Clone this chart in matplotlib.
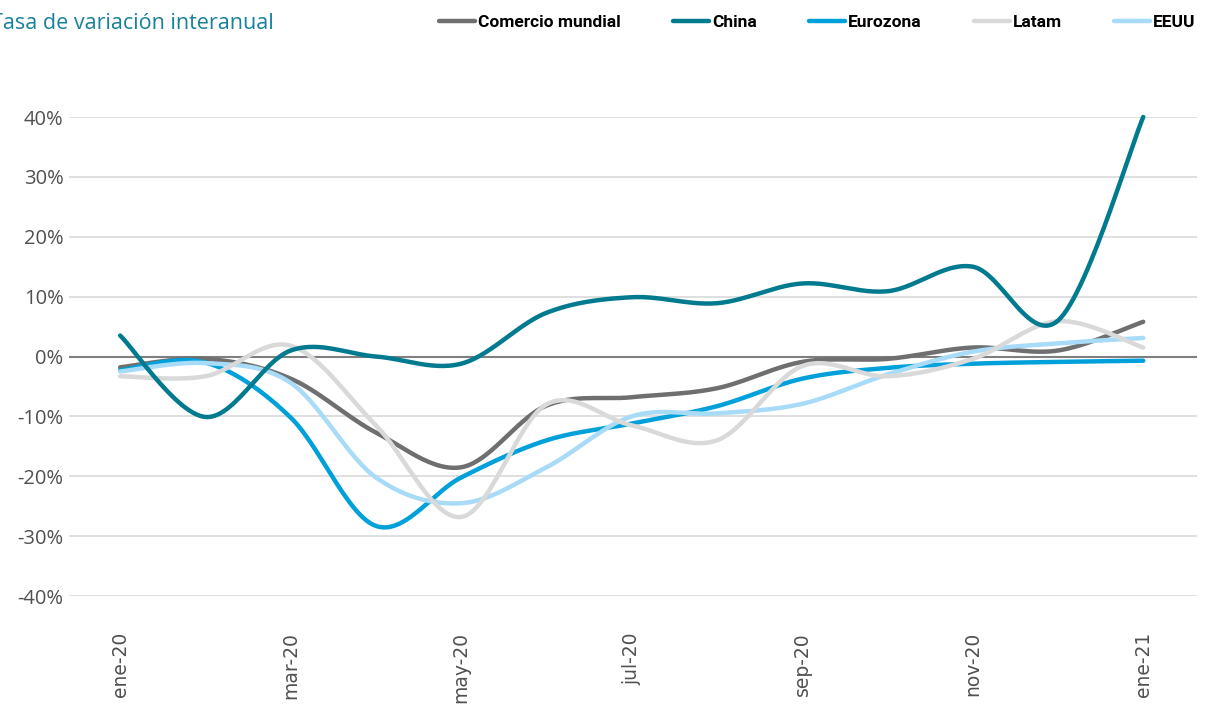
import numpy as np
import matplotlib.pyplot as plt

meses = ['ene-20', 'feb-20', 'mar-20', 'abr-20', 'may-20', 'jun-20', 'jul-20',
         'ago-20', 'sep-20', 'oct-20', 'nov-20', 'dic-20', 'ene-21']

comercio = [-1.8, -0.4, -3.7, -12.7, -18.5, -8.2, -6.8, -5.3, -0.9, -0.4, 1.5, 1.0, 5.8]
china = [3.5, -10.1, 1.0, 0.0, -1.2, 7.3, 9.9, 8.9, 12.2, 10.9, 15.0, 6.0, 40.0]
eurozona = [-2.3, -1.0, -10.2, -28.3, -20.2, -14.0, -11.2, -8.3, -3.7, -1.9, -1.2, -0.9, -0.7]
latam = [-3.3, -3.3, 1.8, -11.5, -26.8, -8.0, -11.5, -14.0, -1.6, -3.3, -0.4, 5.9, 1.5]
eeuu = [-2.5, -1.1, -4.4, -20.2, -24.5, -18.5, -10.0, -9.5, -7.9, -3.0, 0.8, 2.2, 3.1]

ticks_y = [-40, -30, -20, -10, 0, 10, 20, 30, 40]


def suavizar(y, n=30):
    # curva tipo "linea suavizada" de Excel (Catmull-Rom)
    y = np.asarray(y, dtype=float)
    x = np.arange(len(y), dtype=float)
    px = np.concatenate([[x[0]], x, [x[-1]]])
    py = np.concatenate([[y[0]], y, [y[-1]]])
    xs, ys = [], []
    t = np.linspace(0, 1, n)
    for i in range(1, len(px) - 2):
        p0, p1, p2, p3 = px[i - 1], px[i], px[i + 1], px[i + 2]
        q0, q1, q2, q3 = py[i - 1], py[i], py[i + 1], py[i + 2]
        c1x, c1y = p1 + (p2 - p0) / 6, q1 + (q2 - q0) / 6
        c2x, c2y = p2 - (p3 - p1) / 6, q2 - (q3 - q1) / 6
        bx = (1 - t)**3 * p1 + 3 * (1 - t)**2 * t * c1x + 3 * (1 - t) * t**2 * c2x + t**3 * p2
        by = (1 - t)**3 * q1 + 3 * (1 - t)**2 * t * c1y + 3 * (1 - t) * t**2 * c2y + t**3 * q2
        xs.append(bx)
        ys.append(by)
    return np.concatenate(xs), np.concatenate(ys)


fig = plt.figure(figsize=(12.11, 7.04), dpi=100)
ax = fig.add_axes([0.057, 0.1534, 0.9314, 0.6804])

series = [
    ('Comercio mundial', comercio, '#6f6f6f', 2),
    ('China', china, '#007a8e', 6),
    ('Eurozona', eurozona, '#00a0da', 3),
    ('Latam', latam, '#d9d9d9', 5),
    ('EEUU', eeuu, '#a7dbf7', 4),
]

for nombre, vals, color, z in series:
    sx, sy = suavizar(vals)
    ax.plot(sx, sy, color=color, lw=3.2, solid_capstyle='round', zorder=z,
            label=nombre, clip_on=False)

ax.set_xlim(-0.6, 12.63)
ax.set_ylim(-40, 40)
ax.set_yticks(ticks_y)
ax.set_yticklabels([f'{v}%' for v in ticks_y], fontsize=14.5, color='#505050',
                   fontfamily='Open Sans')
ax.set_xticks(range(0, len(meses), 2))
ax.set_xticklabels(meses[::2], rotation=90, fontsize=13.5, color='#505050', va='top')
ax.tick_params(axis='both', length=0)
ax.tick_params(axis='y', pad=4)
ax.tick_params(axis='x', pad=26)

ax.grid(axis='y', color='#d9d9d9', lw=1.2)
ax.set_axisbelow(True)
ax.axhline(0, color='#7f7f7f', lw=1.5, zorder=1.5)
for s in ax.spines.values():
    s.set_visible(False)

fig.text(-0.0075, 0.966, 'Tasa de variación interanual', fontsize=15.5,
         color='#17819b', fontfamily='Open Sans', va='center', ha='left')

leg = fig.legend(loc='center right', bbox_to_anchor=(1.0, 0.968), ncol=5,
                 frameon=False, handlelength=2.1, handletextpad=0.15,
                 columnspacing=3.0, prop={'family': 'Roboto', 'weight': 'bold', 'size': 12.5})

fig.savefig('out.png', dpi=100)
